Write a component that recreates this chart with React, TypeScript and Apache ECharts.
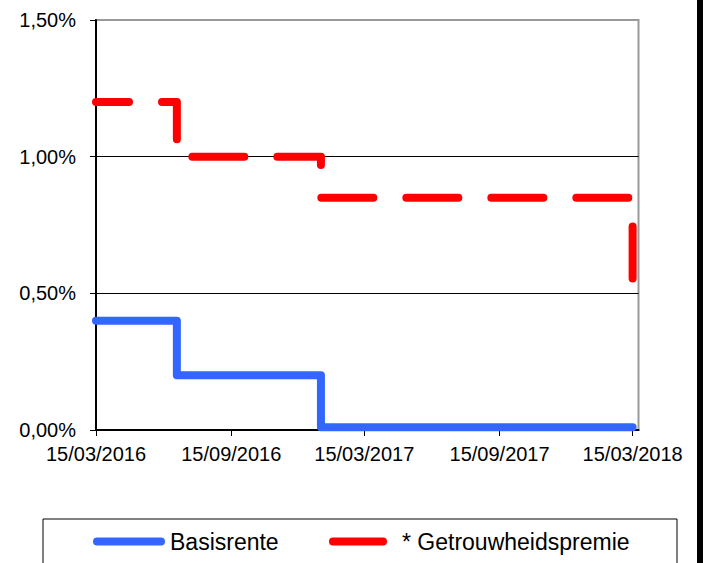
import React, { useEffect, useRef } from "react";
import * as echarts from "echarts";

// ---- data ----
const changeDates = ["2016-03-15", "2016-07-03", "2017-01-15", "2018-03-15"];
const basisrente = [0.4, 0.2, 0.01, 0.01];
const getrouwheidspremie = [1.2, 1.0, 0.85, 0.5];
const xTickDates = ["2016-03-15", "2016-09-15", "2017-03-15", "2017-09-15", "2018-03-15"];
const xMinDate = "2016-03-15";
const xMaxDate = "2018-03-23";
const yMin = 0;
const yMax = 1.5;
const yInterval = 0.5;
const seriesNames = ["Basisrente", "* Getrouwheidspremie"];

const ts = (s: string) => {
  const [y, m, d] = s.split("-").map(Number);
  return new Date(y, m - 1, d).getTime();
};
const pad = (n: number) => (n < 10 ? "0" + n : "" + n);
const fmtDate = (v: number) => {
  const d = new Date(v);
  return pad(d.getDate()) + "/" + pad(d.getMonth() + 1) + "/" + d.getFullYear();
};

const FONT = "'Liberation Sans', Arial, sans-serif";

export default function App() {
  const ref = useRef<HTMLDivElement>(null);
  useEffect(() => {
    if (!ref.current) return;
    const chart = echarts.init(ref.current, null, { renderer: "svg" });
    const blueData = changeDates.map((d, i) => [ts(d), basisrente[i]]);
    const redData = changeDates.map((d, i) => [ts(d), getrouwheidspremie[i]]);
    chart.setOption({
      animation: false,
      backgroundColor: "#fff",
      textStyle: { fontFamily: FONT },
      grid: {
        left: 96,
        right: 64.5,
        top: 20,
        bottom: 133,
        show: true,
        borderColor: "#999",
        borderWidth: 2,
        backgroundColor: "transparent",
        containLabel: false,
        outerBoundsMode: "none",
      },
      xAxis: {
        type: "value",
        min: ts(xMinDate),
        max: ts(xMaxDate),
        axisLine: { show: true, lineStyle: { color: "#000", width: 2 } },
        axisTick: {
          show: true,
          length: 6,
          lineStyle: { color: "#000", width: 1 },
          customValues: xTickDates.map(ts),
        },
        axisLabel: {
          customValues: xTickDates.map(ts),
          formatter: (v: number) => fmtDate(v),
          color: "#000",
          fontSize: 20,
          fontFamily: FONT,
          margin: 14,
          hideOverlap: false,
          showMinLabel: true,
          showMaxLabel: true,
        },
        splitLine: { show: false },
      },
      yAxis: {
        type: "value",
        min: yMin,
        max: yMax,
        interval: yInterval,
        axisLine: { show: true, lineStyle: { color: "#000", width: 2 } },
        axisTick: { show: true, length: 6, lineStyle: { color: "#000", width: 1 } },
        axisLabel: {
          formatter: (v: number) => v.toFixed(2).replace(".", ",") + "%",
          color: "#000",
          fontSize: 20,
          fontFamily: FONT,
          margin: 20,
        },
        splitLine: {
          show: true,
          showMinLine: false,
          showMaxLine: false,
          lineStyle: { color: "#000", width: 1 },
        },
      },
      legend: [
        {
          data: [seriesNames[0]],
          left: 93,
          top: 530,
          padding: 0,
          itemWidth: 72,
          itemHeight: 8,
          icon: "path://M4,0L68,0A4,4,0,0,1,68,8L4,8A4,4,0,0,1,4,0Z",
          itemStyle: { borderWidth: 0 },
          textStyle: { fontSize: 23, color: "#000", fontFamily: FONT },
        },
        {
          data: [seriesNames[1]],
          left: 329,
          top: 530,
          padding: 0,
          itemWidth: 58,
          itemHeight: 8,
          icon: "path://M4,0L54,0A4,4,0,0,1,54,8L4,8A4,4,0,0,1,4,0Z",
          itemStyle: { borderWidth: 0 },
          textStyle: { fontSize: 23, color: "#000", fontFamily: FONT, padding: [0, 0, 0, 10] },
        },
      ],
      graphic: [
        {
          type: "rect",
          shape: { x: 43, y: 519, width: 634, height: 60 },
          style: { fill: "none", stroke: "#000", lineWidth: 1 },
          silent: true,
        },
        {
          type: "rect",
          shape: { x: 697, y: 0, width: 6, height: 563 },
          style: { fill: "#000" },
          silent: true,
        },
      ],
      series: [
        {
          name: seriesNames[0],
          type: "line",
          step: "end",
          data: blueData,
          showSymbol: false,
          symbol: "none",
          color: "#3366ff",
          lineStyle: { color: "#3366ff", width: 8, cap: "round", join: "round" },
          z: 3,
        },
        {
          name: seriesNames[1],
          type: "line",
          step: "end",
          data: redData,
          showSymbol: false,
          symbol: "none",
          color: "#ff0000",
          lineStyle: {
            color: "#ff0000",
            width: 8,
            type: [52, 33],
            dashOffset: 19,
            cap: "round",
            join: "round",
          },
          z: 3,
        },
      ],
    });
    return () => chart.dispose();
  }, []);
  return (
    <div
      ref={ref}
      style={{ position: "fixed", left: 0, top: 0, width: 703, height: 563, background: "#fff" }}
    />
  );
}
